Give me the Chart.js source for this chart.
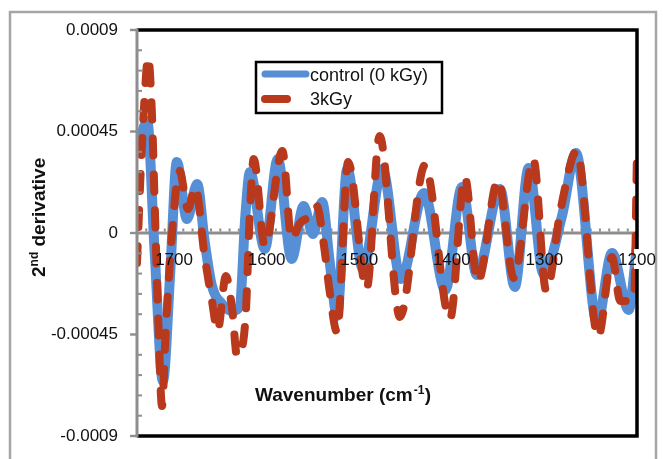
<!DOCTYPE html>
<html>
<head>
<meta charset="utf-8">
<script src="https://cdn.jsdelivr.net/npm/chart.js@4.4.1/dist/chart.umd.min.js"></script>
<style>
  html, body { margin: 0; padding: 0; background: #fff; }
  #wrap { width: 663px; height: 459px; }
</style>
</head>
<body>
<div id="wrap"><canvas id="chart" width="663" height="459"></canvas></div>
<script>
// wavenumber (cm-1) and 2nd derivative values
const controlWn = [1740, 1729, 1721, 1712, 1704, 1697, 1686, 1675, 1667, 1659,
  1648, 1637, 1629, 1623, 1618, 1602, 1588, 1573, 1560, 1550,
  1540, 1532, 1524, 1513, 1496, 1475, 1455, 1430, 1407, 1389,
  1373, 1348, 1332, 1317, 1301, 1281, 1266, 1243, 1227, 1209, 1200];
const controlVal = [0.000350, 0.000497, -0.000080, -0.000656, -0.000168, 0.000315, 0.000062, 0.000217, -0.000035, -0.000235,
  -0.000315, -0.000346, -0.000324, 0.000075, 0.000270, -0.000071, 0.000328, -0.000115, 0.000120, -0.000004,
  0.000137, -0.000124, -0.000368, 0.000284, -0.000160, 0.000284, -0.000204, 0.000177, -0.000253, 0.000204,
  -0.000186, 0.000195, -0.000239, 0.000288, -0.000182, 0.000075, 0.000355, -0.000399, -0.000089, -0.000341, -0.000058];

const irradWn = [1740, 1736, 1732, 1728, 1724, 1721, 1717, 1713, 1709, 1702,
  1694, 1685, 1677, 1667, 1659, 1653, 1644, 1637, 1632, 1623,
  1618, 1614, 1602, 1583, 1573, 1564, 1553, 1546, 1538, 1532,
  1524, 1512, 1492, 1478, 1456, 1429, 1402, 1386, 1372, 1350,
  1333, 1312, 1298, 1282, 1265, 1242, 1227, 1218, 1208, 1203, 1200];
const irradVal = [-0.000133, 0.000275, 0.000585, 0.000780, 0.000541, 0.000142, -0.000390, -0.000767, -0.000434, 0.000009,
  0.000275, 0.000106, 0.000204, -0.000102, -0.000301, -0.000434, -0.000191, -0.000346, -0.000545, -0.000390,
  0.000098, 0.000328, -0.000058, 0.000364, -0.000027, 0.000044, 0.000075, 0.000120, -0.000058, -0.000257,
  -0.000439, 0.000315, -0.000248, 0.000430, -0.000372, 0.000301, -0.000381, 0.000248, -0.000217, 0.000235,
  -0.000200, 0.000328, -0.000257, 0.000115, 0.000364, -0.000461, -0.000106, -0.000301, -0.000301, -0.000284, 0.000364];

const seriesNames = ['control (0 kGy)', '3kGy'];
const xTicks = [1700, 1600, 1500, 1400, 1300, 1200];
const yTicks = [0.0009, 0.00045, 0, -0.00045, -0.0009];
const yTickLabels = ['0.0009', '0.00045', '0', '-0.00045', '-0.0009'];

const BLUE = '#568fd6';
const RED = '#b8391c';
const GREY = '#8e8e8e';
const FONT = "'Liberation Sans', Arial, sans-serif";

const toPoints = (xs, ys) => xs.map((x, i) => ({ x: x, y: ys[i] }));

const decorations = {
  id: 'decorations',
  beforeDraw(chart) {
    const ctx = chart.ctx;
    ctx.save();
    ctx.strokeStyle = '#a6a6a6';
    ctx.lineWidth = 2.5;
    ctx.strokeRect(10, 12, 646, 470);
    ctx.restore();
  },
  beforeDatasetsDraw(chart) {
    const { ctx, chartArea: a, scales: { x, y } } = chart;
    const y0 = y.getPixelForValue(0);
    ctx.save();
    ctx.fillStyle = GREY;
    ctx.fillRect(a.left, y0 - 1.5, a.right - a.left, 3);
    // small tick marks every 10 cm-1 on the zero line
    for (let w = 1210; w < 1740; w += 10) {
      const px = x.getPixelForValue(w);
      ctx.fillRect(px - 1, y0 - 4.5, 2, 3);
    }
    ctx.restore();
  },
  afterDatasetsDraw(chart) {
    const { ctx, chartArea: a, scales: { x, y } } = chart;
    const y0 = y.getPixelForValue(0);
    ctx.save();

    // plot border
    ctx.strokeStyle = '#000';
    ctx.lineWidth = 3.5;
    ctx.beginPath();
    ctx.moveTo(a.left, a.top);
    ctx.lineTo(a.right, a.top);
    ctx.lineTo(a.right, a.bottom);
    ctx.lineTo(a.left, a.bottom);
    ctx.stroke();

    // y axis with major (outside) and minor (inside) ticks
    ctx.fillStyle = GREY;
    ctx.fillRect(a.left - 1.5, a.top - 1.5, 3, a.bottom - a.top + 3);
    for (let k = -10; k <= 10; k++) {
      const py = y.getPixelForValue(k * 0.00009);
      if (k % 5 === 0) ctx.fillRect(a.left - 7, py - 1.2, 6, 2.4);
      else ctx.fillRect(a.left + 1, py - 1, 4, 2);
    }

    ctx.fillStyle = '#111';
    ctx.font = '17px ' + FONT;
    ctx.textAlign = 'right';
    ctx.textBaseline = 'middle';
    yTicks.forEach((v, i) => ctx.fillText(yTickLabels[i], 118, y.getPixelForValue(v)));

    // the last x label sits over the right border, which is hidden behind it
    ctx.fillStyle = '#fff';
    ctx.fillRect(a.right - 3, y0 + 16, 6, 20);
    ctx.fillStyle = '#111';
    ctx.textAlign = 'center';
    ctx.textBaseline = 'alphabetic';
    xTicks.forEach(v => ctx.fillText(String(v), x.getPixelForValue(v), y0 + 32));

    // x title with superscript
    ctx.textAlign = 'left';
    let tx = 255;
    const ty = 401;
    ctx.font = 'bold 19px ' + FONT;
    const t1 = 'Wavenumber (cm';
    ctx.fillText(t1, tx, ty);
    tx += ctx.measureText(t1).width;
    ctx.font = 'bold 12px ' + FONT;
    ctx.fillText('-1', tx + 1, ty - 7);
    tx += ctx.measureText('-1').width + 1.5;
    ctx.font = 'bold 19px ' + FONT;
    ctx.fillText(')', tx, ty);

    // y title, rotated, with superscript
    ctx.save();
    ctx.translate(45, 277);
    ctx.rotate(-Math.PI / 2);
    let sx = 0;
    ctx.font = 'bold 19px ' + FONT;
    ctx.fillText('2', sx, 0);
    sx += ctx.measureText('2').width;
    ctx.font = 'bold 12px ' + FONT;
    ctx.fillText('nd', sx, -7);
    sx += ctx.measureText('nd').width;
    ctx.font = 'bold 19px ' + FONT;
    ctx.fillText(' derivative', sx, 0);
    ctx.restore();

    // legend
    ctx.fillStyle = '#fff';
    ctx.fillRect(256, 62, 186, 51);
    ctx.strokeStyle = '#000';
    ctx.lineWidth = 2.5;
    ctx.strokeRect(256, 62, 186, 51);
    ctx.lineCap = 'round';
    ctx.strokeStyle = BLUE;
    ctx.lineWidth = 7;
    ctx.beginPath(); ctx.moveTo(265, 74); ctx.lineTo(306, 74); ctx.stroke();
    ctx.strokeStyle = RED;
    ctx.lineWidth = 8;
    ctx.beginPath(); ctx.moveTo(265, 99); ctx.lineTo(287, 99); ctx.stroke();
    ctx.fillStyle = '#111';
    ctx.font = '18px ' + FONT;
    ctx.fillText(seriesNames[0], 310, 81);
    ctx.fillText(seriesNames[1], 310, 105);

    ctx.restore();
  }
};

new Chart(document.getElementById('chart'), {
  type: 'line',
  data: {
    datasets: [
      {
        label: seriesNames[0],
        data: toPoints(controlWn, controlVal),
        borderColor: BLUE,
        borderWidth: 10,
        cubicInterpolationMode: 'monotone',
        pointRadius: 0,
        order: 2
      },
      {
        label: seriesNames[1],
        data: toPoints(irradWn, irradVal),
        borderColor: RED,
        borderWidth: 8,
        borderDash: [17, 19],
        borderCapStyle: 'round',
        cubicInterpolationMode: 'monotone',
        pointRadius: 0,
        order: 1
      }
    ]
  },
  options: {
    responsive: false,
    animation: false,
    devicePixelRatio: 1,
    layout: { padding: { left: 137, top: 30, right: 26, bottom: 23 } },
    plugins: { legend: { display: false }, tooltip: { enabled: false } },
    scales: {
      x: { type: 'linear', reverse: true, min: 1200, max: 1740, display: false },
      y: { type: 'linear', min: -0.0009, max: 0.0009, display: false }
    }
  },
  plugins: [decorations]
});
</script>
</body>
</html>
